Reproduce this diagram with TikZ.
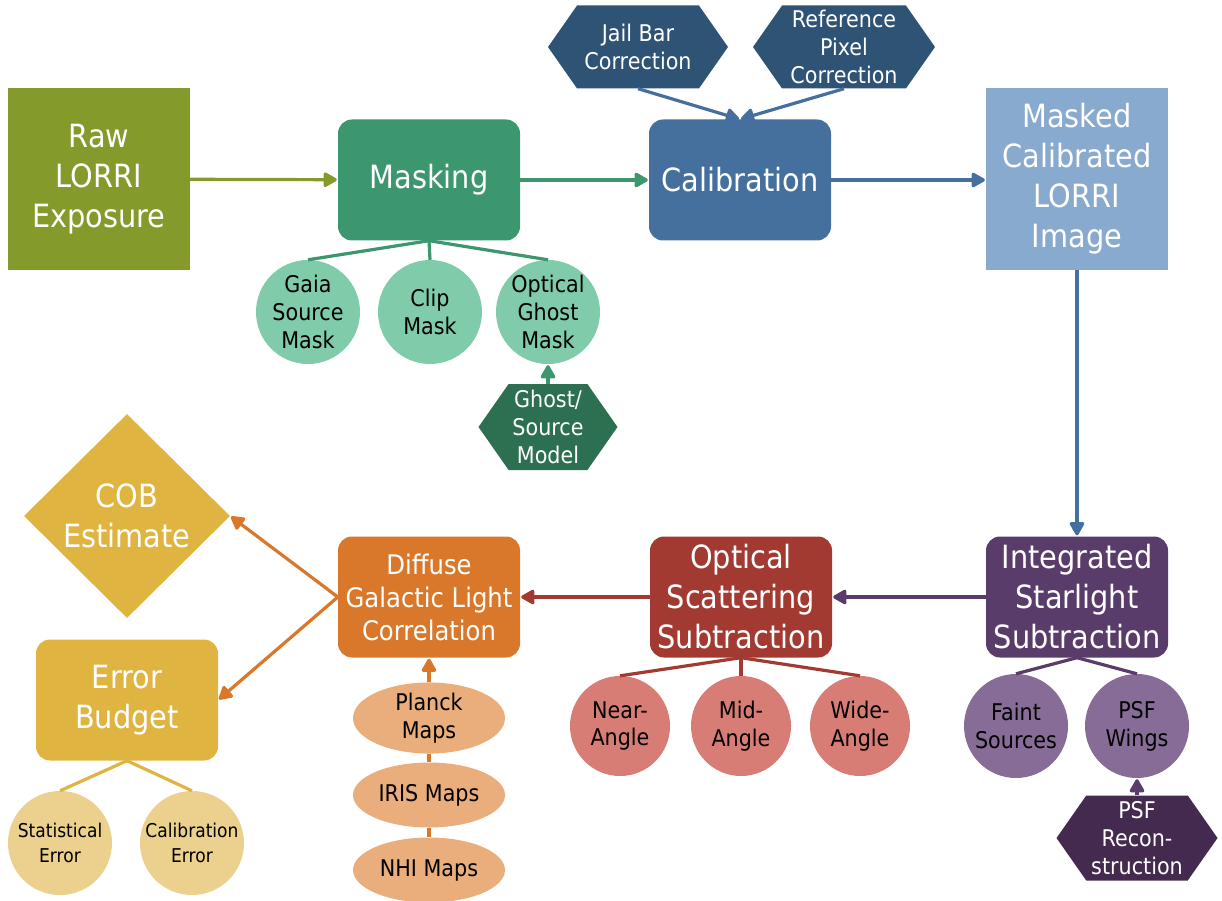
\documentclass[tikz,border=0pt]{standalone}
\usepackage{fontspec}
\setmainfont[FakeStretch=0.9]{DejaVu Sans}
\usetikzlibrary{shapes.geometric,shapes.symbols,arrows.meta}

\definecolor{rawc}{HTML}{849A2B}
\definecolor{maskc}{HTML}{3C976F}
\definecolor{calc}{HTML}{45709D}
\definecolor{mclc}{HTML}{88AACE}
\definecolor{corrc}{HTML}{2F5374}
\definecolor{leafg}{HTML}{80CBA9}
\definecolor{ghostc}{HTML}{2D7051}
\definecolor{issc}{HTML}{5A3C6A}
\definecolor{ossc}{HTML}{A33A32}
\definecolor{dglc}{HTML}{D9782A}
\definecolor{cobc}{HTML}{E0B440}
\definecolor{leafy}{HTML}{EBD18D}
\definecolor{leafo}{HTML}{E9AE7C}
\definecolor{leafr}{HTML}{D77D75}
\definecolor{leafp}{HTML}{876C97}
\definecolor{psfc}{HTML}{432A4E}

\tikzset{
  bigtxt/.style = {font=\fontsize{32}{40}\selectfont},
  midtxt/.style = {font=\fontsize{27}{33}\selectfont},
  smalltxt/.style = {font=\fontsize{23}{28}\selectfont},
  tinytxt/.style = {font=\fontsize{19}{25}\selectfont},
  stepbox/.style = {rectangle, rounded corners=14pt, minimum width=182pt, minimum height=121pt,
    inner sep=0pt, align=center, text=white, bigtxt},
  sqbox/.style = {rectangle, minimum width=182pt, minimum height=182pt,
    inner sep=0pt, align=center, text=white, bigtxt},
  hexbox/.style = {signal, signal to=east and west, signal pointer angle=110,
    inner sep=0pt, align=center, text=white, smalltxt},
  leaf/.style = {circle, minimum size=104pt, inner sep=0pt, align=center, smalltxt},
  mapnode/.style = {ellipse, minimum width=152pt, minimum height=65pt, inner sep=0pt,
    align=center, smalltxt},
  flow/.style = {line width=3.2pt, shorten >=1pt, -{Triangle[length=15pt,width=16pt,round]}},
  twig/.style = {line width=3.2pt}
}

\begin{document}
\begin{tikzpicture}[x=1pt, y=-1pt]
  \useasboundingbox (0,0) rectangle (1222,901);

  \node[sqbox, fill=rawc] (raw) at (99,179) {Raw\\LORRI\\Exposure};
  \node[stepbox, fill=maskc] (mask) at (429,180) {Masking};
  \node[stepbox, fill=calc] (cal) at (740,180) {Calibration};
  \node[sqbox, fill=mclc] (mcl) at (1077,179) {Masked\\Calibrated\\LORRI\\Image};

  \node[hexbox, fill=corrc, minimum width=180pt, minimum height=83pt] (jail) at (638,47) {Jail Bar\\Correction};
  \node[hexbox, fill=corrc, minimum width=182pt, minimum height=83pt] (refpix) at (844,47) {Reference\\Pixel\\Correction};

  \node[leaf, fill=leafg] (gaia) at (308,312) {Gaia\\Source\\Mask};
  \node[leaf, fill=leafg] (clip) at (430,312) {Clip\\Mask};
  \node[leaf, fill=leafg] (oghost) at (548,312) {Optical\\Ghost\\Mask};
  \node[hexbox, fill=ghostc, minimum width=139pt, minimum height=86pt] (ghost) at (548,427) {Ghost/\\Source\\Model};

  \node[stepbox, fill=issc] (iss) at (1077,597) {Integrated\\Starlight\\Subtraction};
  \node[stepbox, fill=ossc] (oss) at (741,597) {Optical\\Scattering\\Subtraction};
  \node[stepbox, fill=dglc, midtxt] (dgl) at (429,597) {Diffuse\\Galactic Light\\Correlation};

  \node[diamond, aspect=1, fill=cobc, minimum width=206pt, minimum height=204pt, inner sep=0pt,
    align=center, text=white, bigtxt] (cob) at (127,516) {COB\\Estimate};
  \node[stepbox, fill=cobc] (err) at (127,700) {Error\\Budget};
  \node[leaf, fill=leafy, tinytxt] (stat) at (60,843) {Statistical\\Error};
  \node[leaf, fill=leafy, tinytxt] (calerr) at (192,843) {Calibration\\Error};

  \node[mapnode, fill=leafo] (planck) at (429,718) {Planck\\Maps};
  \node[mapnode, fill=leafo] (iris) at (429,795) {IRIS Maps};
  \node[mapnode, fill=leafo] (nhi) at (429,870) {NHI Maps};

  \node[leaf, fill=leafr, minimum size=100pt] (near) at (620,726) {Near-\\Angle};
  \node[leaf, fill=leafr, minimum size=100pt] (mid) at (741,726) {Mid-\\Angle};
  \node[leaf, fill=leafr, minimum size=100pt] (wide) at (860,726) {Wide-\\Angle};

  \node[leaf, fill=leafp] (faint) at (1016,726) {Faint\\Sources};
  \node[leaf, fill=leafp] (wings) at (1137,726) {PSF\\Wings};
  \node[hexbox, fill=psfc, minimum width=161pt, minimum height=85pt] (psfrec) at (1137,838) {PSF\\Recon-\\struction};

  \draw[flow, rawc] (raw) -- (mask);
  \draw[flow, maskc] (mask) -- (cal);
  \draw[flow, calc] (cal) -- (mcl.west |- cal);
  \draw[flow, calc] (jail.south) -- (cal.north);
  \draw[flow, calc] (refpix.south) -- (cal.north);
  \draw[flow, calc] (mcl.south) -- (iss.north);
  \draw[flow, issc] (iss) -- (oss);
  \draw[flow, ossc] (oss) -- (dgl);
  \draw[flow, dglc] (dgl.west) -- (cob.east);
  \draw[flow, dglc] (dgl.west) -- (err.east);
  \draw[flow, dglc] (planck.north) -- (dgl.south);
  \draw[flow, maskc] (ghost.north) -- (oghost.south);
  \draw[flow, issc] (psfrec.north) -- (wings.south);

  \draw[twig, maskc] (mask.south) -- (gaia.north);
  \draw[twig, maskc] (mask.south) -- (clip.north);
  \draw[twig, maskc] (mask.south) -- (oghost.north);
  \draw[twig, cobc] (err.south) -- (stat.north);
  \draw[twig, cobc] (err.south) -- (calerr.north);
  \draw[twig, dglc] (planck.south) -- (iris.north);
  \draw[twig, dglc] (iris.south) -- (nhi.north);
  \draw[twig, ossc] (oss.south) -- (near.north);
  \draw[twig, ossc] (oss.south) -- (mid.north);
  \draw[twig, ossc] (oss.south) -- (wide.north);
  \draw[twig, issc] (iss.south) -- (faint.north);
  \draw[twig, issc] (iss.south) -- (wings.north);
\end{tikzpicture}
\end{document}
